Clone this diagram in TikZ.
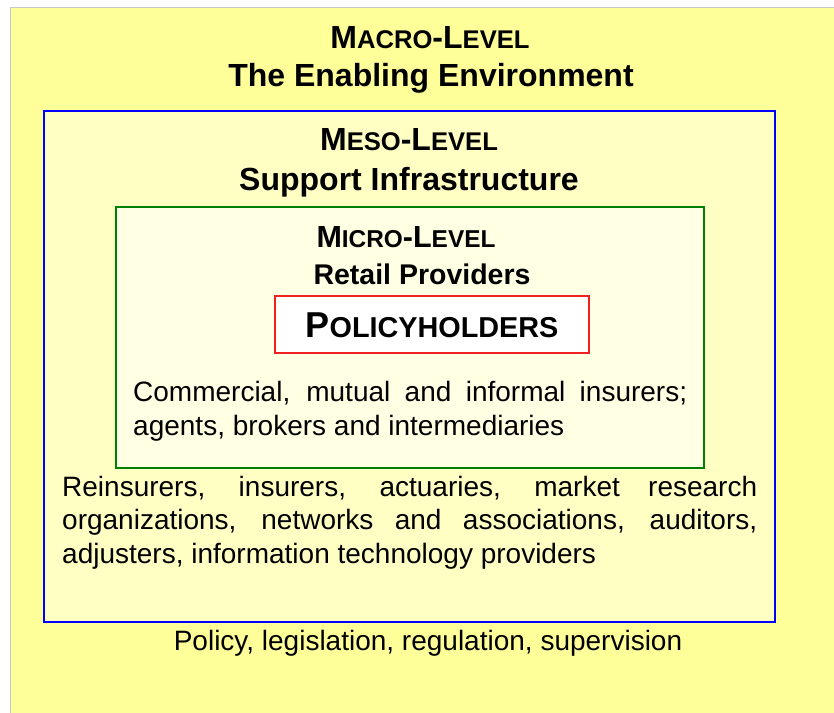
\documentclass[tikz,border=0pt]{standalone}
\usepackage{fontspec}
\setmainfont{Liberation Sans}

\definecolor{macrofill}{HTML}{FFFF99}
\definecolor{mesofill}{HTML}{FFFFC4}
\definecolor{microfill}{HTML}{FFFFE4}
\definecolor{frameline}{HTML}{C8C8C8}
\definecolor{mesoline}{HTML}{0000FF}
\definecolor{microline}{HTML}{008000}
\definecolor{holderline}{HTML}{F02020}

\newcommand{\smallcap}[1]{{\fontsize{25.6}{30}\selectfont #1}}

\begin{document}
\begin{tikzpicture}[x=1pt, y=-1pt,
    title/.style={font=\bfseries\fontsize{32}{35}\selectfont, inner sep=0pt, anchor=base},
    body/.style={font=\fontsize{28}{33.5}\selectfont, inner sep=0pt, align=left},
    box/.style={line width=1.5pt}]
    \clip (0,0) rectangle (834,712);
    % levels
    \draw[frameline, fill=macrofill] (10.5,7.5) rectangle (840,720);
    \draw[box, draw=mesoline, fill=mesofill] (44,111) rectangle (775,622);
    \draw[box, draw=microline, fill=microfill] (116,207) rectangle (704,468);
    \draw[box, draw=holderline, fill=white] (275,296) rectangle (589,353);

    \node[title] (macro) at (430,48) {M\smallcap{ACRO}-L\smallcap{EVEL}};
    \node[title] (macrosub) at (431,86) {The Enabling Environment};
    \node[title] (meso) at (409,150) {M\smallcap{ESO}-L\smallcap{EVEL}};
    \node[title] (mesosub) at (409,190) {Support Infrastructure};
    \node[title, font=\bfseries\fontsize{30.5}{35}\selectfont] (micro) at (406,247) {M{\fontsize{24.4}{30}\selectfont ICRO}-L{\fontsize{24.4}{30}\selectfont EVEL}};
    \node[title, font=\bfseries\fontsize{28.5}{35}\selectfont] (microsub) at (422,284) {Retail Providers};
    \node[title, font=\bfseries\fontsize{36}{40}\selectfont] (holders) at (432,337) {P{\fontsize{28.8}{34}\selectfont OLICYHOLDERS}};

    \node[body, anchor=base west] (retail) at (133,435)
        {\makebox[554pt][s]{Commercial, mutual and informal insurers;}\\
         agents, brokers and intermediaries};
    \node[body, anchor=base west] (support) at (62,563)
        {\makebox[695pt][s]{Reinsurers, insurers, actuaries, market research}\\
         \makebox[695pt][s]{organizations, networks and associations, auditors,}\\
         adjusters, information technology providers};
    \node[body, anchor=base] (enabling) at (428,650) {Policy, legislation, regulation, supervision};
\end{tikzpicture}
\end{document}
